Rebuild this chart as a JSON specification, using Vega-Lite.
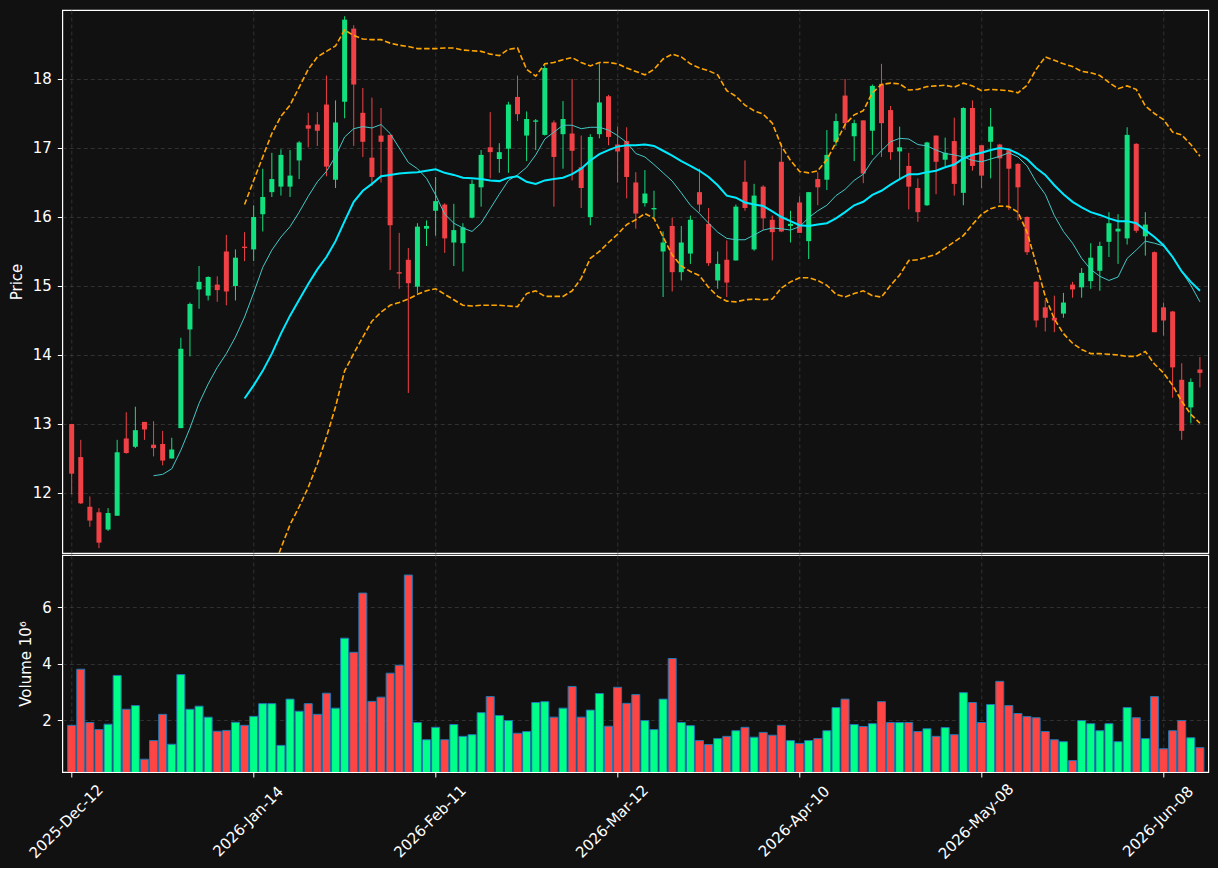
{
 "$schema": "https://vega.github.io/schema/vega-lite/v6.json",
 "background": "#111111",
 "padding": {"left": 8.3, "top": 9, "right": 9, "bottom": 5},
 "spacing": 0,
 "config": {
  "view": {"stroke": "#ffffff", "strokeWidth": 1.2},
  "axis": {"labelFont": "DejaVu Sans", "titleFont": "DejaVu Sans", "labelFontSize": 15, "titleFontSize": 15, "titleFontWeight": "normal", "labelColor": "#ffffff", "titleColor": "#ffffff", "tickColor": "#ffffff", "tickSize": 5, "domain": false, "gridColor": "#3a3a3a", "gridDash": [4, 3], "gridWidth": 0.8}
 },
 "data": {"values": [
  {"i":0,"o":13.00,"h":13.00,"l":11.98,"c":12.28,"v":1.82},
  {"i":1,"o":12.52,"h":12.77,"l":11.84,"c":11.85,"v":3.81},
  {"i":2,"o":11.80,"h":11.95,"l":11.51,"c":11.60,"v":1.92},
  {"i":3,"o":11.72,"h":11.78,"l":11.20,"c":11.28,"v":1.67},
  {"i":4,"o":11.47,"h":11.78,"l":11.45,"c":11.71,"v":1.86},
  {"i":5,"o":11.67,"h":12.77,"l":11.67,"c":12.59,"v":3.59},
  {"i":6,"o":12.79,"h":13.17,"l":12.57,"c":12.58,"v":2.39},
  {"i":7,"o":12.67,"h":13.25,"l":12.65,"c":12.91,"v":2.52},
  {"i":8,"o":13.03,"h":13.03,"l":12.77,"c":12.92,"v":0.62},
  {"i":9,"o":12.70,"h":13.04,"l":12.53,"c":12.65,"v":1.28,"m10":12.25},
  {"i":10,"o":12.71,"h":12.90,"l":12.40,"c":12.47,"v":2.21,"m10":12.27},
  {"i":11,"o":12.50,"h":12.80,"l":12.50,"c":12.63,"v":1.15,"m10":12.35},
  {"i":12,"o":12.94,"h":14.25,"l":12.94,"c":14.09,"v":3.62,"m10":12.62},
  {"i":13,"o":14.37,"h":14.76,"l":13.98,"c":14.74,"v":2.39,"m10":12.94},
  {"i":14,"o":14.95,"h":15.29,"l":14.67,"c":15.06,"v":2.50,"m10":13.30},
  {"i":15,"o":14.86,"h":15.14,"l":14.79,"c":15.13,"v":2.11,"m10":13.58},
  {"i":16,"o":15.02,"h":15.14,"l":14.77,"c":14.94,"v":1.61,"m10":13.82},
  {"i":17,"o":15.50,"h":15.74,"l":14.72,"c":14.92,"v":1.64,"m10":14.02},
  {"i":18,"o":15.00,"h":15.53,"l":14.79,"c":15.41,"v":1.93,"m10":14.26},
  {"i":19,"o":15.57,"h":15.78,"l":15.36,"c":15.55,"v":1.82,"m10":14.55,"m20":13.37,"bu":16.18,"bl":10.56},
  {"i":20,"o":15.53,"h":16.17,"l":15.36,"c":16.00,"v":2.14,"m10":14.90,"m20":13.56,"bu":16.53,"bl":10.59},
  {"i":21,"o":16.04,"h":16.70,"l":15.79,"c":16.29,"v":2.59,"m10":15.27,"m20":13.77,"bu":16.87,"bl":10.67},
  {"i":22,"o":16.36,"h":16.93,"l":16.29,"c":16.55,"v":2.59,"m10":15.52,"m20":14.02,"bu":17.21,"bl":10.85},
  {"i":23,"o":16.44,"h":16.98,"l":16.31,"c":16.90,"v":1.11,"m10":15.71,"m20":14.31,"bu":17.46,"bl":11.20},
  {"i":24,"o":16.44,"h":16.97,"l":16.29,"c":16.60,"v":2.75,"m10":15.86,"m20":14.57,"bu":17.62,"bl":11.54},
  {"i":25,"o":16.82,"h":17.10,"l":16.55,"c":17.08,"v":2.32,"m10":16.07,"m20":14.80,"bu":17.88,"bl":11.80},
  {"i":26,"o":17.33,"h":17.51,"l":17.01,"c":17.28,"v":2.59,"m10":16.30,"m20":15.03,"bu":18.14,"bl":12.08},
  {"i":27,"o":17.34,"h":17.52,"l":17.03,"c":17.25,"v":2.21,"m10":16.51,"m20":15.24,"bu":18.32,"bl":12.42},
  {"i":28,"o":17.63,"h":18.05,"l":16.59,"c":16.73,"v":2.96,"m10":16.66,"m20":15.42,"bu":18.40,"bl":12.81},
  {"i":29,"o":16.54,"h":17.69,"l":16.42,"c":17.37,"v":2.43,"m10":16.88,"m20":15.65,"bu":18.48,"bl":13.25},
  {"i":30,"o":17.67,"h":18.91,"l":17.43,"c":18.86,"v":4.91,"m10":17.16,"m20":15.94,"bu":18.71,"bl":13.77},
  {"i":31,"o":18.73,"h":18.78,"l":17.03,"c":17.92,"v":4.41,"m10":17.28,"m20":16.22,"bu":18.63,"bl":14.02},
  {"i":32,"o":17.51,"h":17.87,"l":16.87,"c":17.09,"v":6.51,"m10":17.31,"m20":16.38,"bu":18.58,"bl":14.26},
  {"i":33,"o":16.86,"h":17.73,"l":16.45,"c":16.58,"v":2.67,"m10":17.29,"m20":16.48,"bu":18.57,"bl":14.49},
  {"i":34,"o":17.18,"h":17.58,"l":16.50,"c":17.09,"v":2.82,"m10":17.34,"m20":16.59,"bu":18.57,"bl":14.62},
  {"i":35,"o":17.19,"h":17.19,"l":15.23,"c":15.88,"v":3.67,"m10":17.21,"m20":16.61,"bu":18.52,"bl":14.72},
  {"i":36,"o":15.20,"h":15.77,"l":14.96,"c":15.18,"v":3.95,"m10":17.00,"m20":16.63,"bu":18.49,"bl":14.76},
  {"i":37,"o":15.38,"h":15.55,"l":13.45,"c":15.04,"v":7.15,"m10":16.79,"m20":16.64,"bu":18.47,"bl":14.81},
  {"i":38,"o":14.99,"h":15.91,"l":14.90,"c":15.86,"v":1.92,"m10":16.70,"m20":16.65,"bu":18.44,"bl":14.88},
  {"i":39,"o":15.83,"h":15.95,"l":15.58,"c":15.87,"v":1.31,"m10":16.56,"m20":16.67,"bu":18.44,"bl":14.93},
  {"i":40,"o":16.09,"h":16.58,"l":15.73,"c":16.23,"v":1.75,"m10":16.32,"m20":16.69,"bu":18.44,"bl":14.96},
  {"i":41,"o":16.18,"h":16.20,"l":15.48,"c":15.69,"v":1.31,"m10":16.04,"m20":16.64,"bu":18.45,"bl":14.88},
  {"i":42,"o":15.63,"h":16.19,"l":15.29,"c":15.81,"v":1.85,"m10":15.91,"m20":16.61,"bu":18.45,"bl":14.80},
  {"i":43,"o":15.62,"h":15.91,"l":15.21,"c":15.85,"v":1.43,"m10":15.84,"m20":16.57,"bu":18.42,"bl":14.72},
  {"i":44,"o":15.99,"h":16.54,"l":15.98,"c":16.48,"v":1.49,"m10":15.79,"m20":16.56,"bu":18.41,"bl":14.71},
  {"i":45,"o":16.43,"h":16.97,"l":16.15,"c":16.90,"v":2.27,"m10":15.91,"m20":16.55,"bu":18.40,"bl":14.72},
  {"i":46,"o":17.01,"h":17.52,"l":16.56,"c":16.94,"v":2.84,"m10":16.12,"m20":16.53,"bu":18.36,"bl":14.72},
  {"i":47,"o":16.84,"h":17.07,"l":16.64,"c":16.94,"v":2.17,"m10":16.33,"m20":16.52,"bu":18.34,"bl":14.72},
  {"i":48,"o":16.99,"h":17.67,"l":16.64,"c":17.63,"v":1.99,"m10":16.53,"m20":16.57,"bu":18.43,"bl":14.71},
  {"i":49,"o":17.74,"h":18.05,"l":17.39,"c":17.49,"v":1.54,"m10":16.61,"m20":16.59,"bu":18.45,"bl":14.70},
  {"i":50,"o":17.18,"h":17.53,"l":16.81,"c":17.42,"v":1.60,"m10":16.72,"m20":16.51,"bu":18.14,"bl":14.89},
  {"i":51,"o":17.38,"h":17.42,"l":16.97,"c":17.40,"v":2.63,"m10":16.90,"m20":16.48,"bu":18.04,"bl":14.93},
  {"i":52,"o":17.19,"h":18.20,"l":17.18,"c":18.16,"v":2.66,"m10":17.13,"m20":16.53,"bu":18.22,"bl":14.85},
  {"i":53,"o":17.37,"h":17.40,"l":16.15,"c":16.87,"v":2.11,"m10":17.23,"m20":16.55,"bu":18.24,"bl":14.85},
  {"i":54,"o":17.20,"h":17.68,"l":16.70,"c":17.42,"v":2.43,"m10":17.33,"m20":16.57,"bu":18.28,"bl":14.85},
  {"i":55,"o":17.21,"h":18.00,"l":16.53,"c":16.96,"v":3.20,"m10":17.33,"m20":16.62,"bu":18.31,"bl":14.93},
  {"i":56,"o":16.72,"h":17.18,"l":16.13,"c":16.42,"v":2.11,"m10":17.28,"m20":16.70,"bu":18.24,"bl":15.11},
  {"i":57,"o":16.00,"h":17.20,"l":15.88,"c":17.16,"v":2.36,"m10":17.30,"m20":16.82,"bu":18.19,"bl":15.40},
  {"i":58,"o":17.20,"h":18.23,"l":17.14,"c":17.66,"v":2.95,"m10":17.30,"m20":16.91,"bu":18.24,"bl":15.50},
  {"i":59,"o":17.75,"h":17.77,"l":17.04,"c":17.16,"v":1.79,"m10":17.26,"m20":16.97,"bu":18.24,"bl":15.63},
  {"i":60,"o":17.05,"h":17.31,"l":16.50,"c":16.95,"v":3.17,"m10":17.18,"m20":17.02,"bu":18.22,"bl":15.75},
  {"i":61,"o":17.10,"h":17.30,"l":16.27,"c":16.58,"v":2.60,"m10":17.08,"m20":17.04,"bu":18.16,"bl":15.89},
  {"i":62,"o":16.50,"h":16.65,"l":15.83,"c":16.05,"v":2.91,"m10":16.92,"m20":17.04,"bu":18.11,"bl":15.96},
  {"i":63,"o":16.20,"h":16.68,"l":16.15,"c":16.34,"v":1.99,"m10":16.87,"m20":17.05,"bu":18.06,"bl":16.05},
  {"i":64,"o":16.11,"h":16.38,"l":15.99,"c":16.13,"v":1.67,"m10":16.76,"m20":17.03,"bu":18.14,"bl":15.98},
  {"i":65,"o":15.50,"h":15.79,"l":14.84,"c":15.63,"v":2.75,"m10":16.64,"m20":16.96,"bu":18.29,"bl":15.71},
  {"i":66,"o":15.87,"h":15.99,"l":14.92,"c":15.20,"v":4.19,"m10":16.52,"m20":16.89,"bu":18.36,"bl":15.45},
  {"i":67,"o":15.20,"h":15.87,"l":15.08,"c":15.63,"v":1.92,"m10":16.35,"m20":16.81,"bu":18.32,"bl":15.29},
  {"i":68,"o":15.47,"h":16.02,"l":15.32,"c":15.96,"v":1.81,"m10":16.17,"m20":16.74,"bu":18.22,"bl":15.21},
  {"i":69,"o":16.36,"h":16.70,"l":16.07,"c":16.18,"v":1.28,"m10":16.05,"m20":16.67,"bu":18.16,"bl":15.15},
  {"i":70,"o":15.90,"h":16.13,"l":15.29,"c":15.33,"v":1.14,"m10":15.91,"m20":16.58,"bu":18.12,"bl":14.98},
  {"i":71,"o":15.08,"h":15.50,"l":14.96,"c":15.32,"v":1.35,"m10":15.78,"m20":16.46,"bu":18.06,"bl":14.85},
  {"i":72,"o":15.38,"h":15.66,"l":14.84,"c":15.05,"v":1.43,"m10":15.69,"m20":16.31,"bu":17.83,"bl":14.78},
  {"i":73,"o":15.37,"h":16.18,"l":15.37,"c":16.15,"v":1.63,"m10":15.67,"m20":16.28,"bu":17.75,"bl":14.77},
  {"i":74,"o":16.51,"h":16.82,"l":16.09,"c":16.13,"v":1.75,"m10":15.67,"m20":16.21,"bu":17.62,"bl":14.80},
  {"i":75,"o":15.53,"h":16.48,"l":15.51,"c":16.31,"v":1.40,"m10":15.74,"m20":16.18,"bu":17.54,"bl":14.81},
  {"i":76,"o":16.44,"h":16.46,"l":15.81,"c":15.98,"v":1.57,"m10":15.81,"m20":16.16,"bu":17.49,"bl":14.80},
  {"i":77,"o":15.96,"h":16.02,"l":15.37,"c":15.78,"v":1.47,"m10":15.84,"m20":16.08,"bu":17.36,"bl":14.81},
  {"i":78,"o":16.80,"h":17.07,"l":15.78,"c":15.79,"v":1.82,"m10":15.83,"m20":16.00,"bu":17.03,"bl":14.97},
  {"i":79,"o":15.87,"h":16.09,"l":15.63,"c":15.90,"v":1.28,"m10":15.81,"m20":15.94,"bu":16.82,"bl":15.06},
  {"i":80,"o":16.21,"h":16.30,"l":15.77,"c":15.77,"v":1.18,"m10":15.86,"m20":15.88,"bu":16.66,"bl":15.12},
  {"i":81,"o":15.65,"h":16.36,"l":15.39,"c":16.36,"v":1.28,"m10":15.99,"m20":15.87,"bu":16.64,"bl":15.12},
  {"i":82,"o":16.55,"h":16.65,"l":16.17,"c":16.43,"v":1.35,"m10":16.09,"m20":15.89,"bu":16.67,"bl":15.08},
  {"i":83,"o":16.54,"h":17.26,"l":16.39,"c":16.90,"v":1.63,"m10":16.17,"m20":15.91,"bu":16.83,"bl":15.01},
  {"i":84,"o":17.09,"h":17.50,"l":17.03,"c":17.39,"v":2.45,"m10":16.31,"m20":15.98,"bu":17.08,"bl":14.88},
  {"i":85,"o":17.76,"h":18.00,"l":17.26,"c":17.36,"v":2.75,"m10":16.40,"m20":16.07,"bu":17.34,"bl":14.84},
  {"i":86,"o":17.17,"h":17.41,"l":16.81,"c":17.36,"v":1.85,"m10":16.53,"m20":16.17,"bu":17.48,"bl":14.89},
  {"i":87,"o":17.40,"h":17.40,"l":16.49,"c":16.63,"v":1.78,"m10":16.62,"m20":16.22,"bu":17.54,"bl":14.93},
  {"i":88,"o":17.25,"h":17.92,"l":16.90,"c":17.90,"v":1.88,"m10":16.82,"m20":16.32,"bu":17.80,"bl":14.86},
  {"i":89,"o":17.93,"h":18.22,"l":16.87,"c":17.36,"v":2.66,"m10":16.96,"m20":16.38,"bu":17.92,"bl":14.84},
  {"i":90,"o":17.55,"h":17.61,"l":16.83,"c":16.94,"v":1.92,"m10":17.09,"m20":16.47,"bu":17.94,"bl":15.01},
  {"i":91,"o":16.95,"h":17.31,"l":16.56,"c":17.01,"v":1.92,"m10":17.14,"m20":16.55,"bu":17.93,"bl":15.16},
  {"i":92,"o":16.74,"h":16.93,"l":16.11,"c":16.44,"v":1.92,"m10":17.13,"m20":16.62,"bu":17.84,"bl":15.37},
  {"i":93,"o":16.42,"h":16.56,"l":15.93,"c":16.07,"v":1.60,"m10":17.05,"m20":16.62,"bu":17.85,"bl":15.38},
  {"i":94,"o":16.17,"h":17.09,"l":16.16,"c":17.08,"v":1.70,"m10":17.03,"m20":16.65,"bu":17.89,"bl":15.42},
  {"i":95,"o":17.18,"h":17.18,"l":16.33,"c":16.80,"v":1.43,"m10":16.97,"m20":16.67,"bu":17.90,"bl":15.46},
  {"i":96,"o":16.83,"h":17.15,"l":16.74,"c":16.93,"v":1.74,"m10":16.92,"m20":16.72,"bu":17.91,"bl":15.55},
  {"i":97,"o":17.10,"h":17.44,"l":16.31,"c":16.48,"v":1.49,"m10":16.90,"m20":16.76,"bu":17.88,"bl":15.64},
  {"i":98,"o":16.35,"h":17.59,"l":16.17,"c":17.58,"v":2.98,"m10":16.87,"m20":16.85,"bu":17.94,"bl":15.73},
  {"i":99,"o":17.58,"h":17.69,"l":16.67,"c":16.74,"v":2.63,"m10":16.82,"m20":16.90,"bu":17.90,"bl":15.89},
  {"i":100,"o":17.04,"h":17.04,"l":16.42,"c":16.60,"v":1.92,"m10":16.80,"m20":16.93,"bu":17.83,"bl":16.04},
  {"i":101,"o":17.09,"h":17.58,"l":16.56,"c":17.31,"v":2.56,"m10":16.84,"m20":16.97,"bu":17.85,"bl":16.12},
  {"i":102,"o":17.05,"h":17.06,"l":16.20,"c":16.85,"v":3.38,"m10":16.88,"m20":17.00,"bu":17.84,"bl":16.16},
  {"i":103,"o":16.97,"h":16.98,"l":16.10,"c":16.70,"v":2.52,"m10":16.93,"m20":16.98,"bu":17.83,"bl":16.15},
  {"i":104,"o":16.77,"h":16.78,"l":15.95,"c":16.43,"v":2.24,"m10":16.87,"m20":16.92,"bu":17.80,"bl":16.07},
  {"i":105,"o":16.00,"h":16.01,"l":15.45,"c":15.49,"v":2.13,"m10":16.74,"m20":16.84,"bu":17.91,"bl":15.78},
  {"i":106,"o":15.06,"h":15.07,"l":14.40,"c":14.50,"v":2.09,"m10":16.51,"m20":16.71,"bu":18.14,"bl":15.32},
  {"i":107,"o":14.69,"h":14.80,"l":14.34,"c":14.54,"v":1.60,"m10":16.33,"m20":16.61,"bu":18.32,"bl":14.85},
  {"i":108,"o":14.54,"h":14.86,"l":14.33,"c":14.50,"v":1.31,"m10":16.02,"m20":16.46,"bu":18.27,"bl":14.52},
  {"i":109,"o":14.60,"h":14.90,"l":14.54,"c":14.76,"v":1.24,"m10":15.79,"m20":16.33,"bu":18.22,"bl":14.31},
  {"i":110,"o":15.02,"h":15.06,"l":14.83,"c":14.95,"v":0.57,"m10":15.62,"m20":16.22,"bu":18.18,"bl":14.17},
  {"i":111,"o":14.98,"h":15.26,"l":14.83,"c":15.19,"v":1.99,"m10":15.40,"m20":16.14,"bu":18.11,"bl":14.08},
  {"i":112,"o":15.07,"h":15.62,"l":14.96,"c":15.41,"v":1.88,"m10":15.24,"m20":16.07,"bu":18.09,"bl":14.02},
  {"i":113,"o":15.22,"h":15.64,"l":14.93,"c":15.58,"v":1.63,"m10":15.14,"m20":16.03,"bu":18.05,"bl":14.02},
  {"i":114,"o":15.64,"h":16.07,"l":15.42,"c":15.91,"v":1.88,"m10":15.08,"m20":15.98,"bu":17.95,"bl":14.01},
  {"i":115,"o":15.79,"h":16.04,"l":15.32,"c":15.83,"v":1.24,"m10":15.13,"m20":15.94,"bu":17.86,"bl":14.00},
  {"i":116,"o":15.69,"h":17.30,"l":15.60,"c":17.19,"v":2.45,"m10":15.40,"m20":15.94,"bu":17.90,"bl":13.98},
  {"i":117,"o":17.06,"h":17.07,"l":15.77,"c":15.80,"v":2.09,"m10":15.52,"m20":15.91,"bu":17.85,"bl":13.98},
  {"i":118,"o":15.72,"h":16.07,"l":15.44,"c":15.89,"v":1.35,"m10":15.65,"m20":15.81,"bu":17.61,"bl":14.05},
  {"i":119,"o":15.49,"h":15.50,"l":14.33,"c":14.33,"v":2.84,"m10":15.62,"m20":15.71,"bu":17.50,"bl":13.87},
  {"i":120,"o":14.69,"h":14.76,"l":14.28,"c":14.50,"v":0.99,"m10":15.58,"m20":15.59,"bu":17.41,"bl":13.74},
  {"i":121,"o":14.63,"h":14.64,"l":13.38,"c":13.82,"v":1.63,"m10":15.42,"m20":15.42,"bu":17.23,"bl":13.56},
  {"i":122,"o":13.64,"h":13.88,"l":12.77,"c":12.90,"v":1.99,"m10":15.21,"m20":15.21,"bu":17.19,"bl":13.33},
  {"i":123,"o":13.24,"h":13.66,"l":13.01,"c":13.61,"v":1.38,"m10":15.01,"m20":15.06,"bu":17.05,"bl":13.14},
  {"i":124,"o":13.79,"h":13.97,"l":13.53,"c":13.74,"v":1.03,"m10":14.77,"m20":14.93,"bu":16.88,"bl":13.01}
 ]},
 "vconcat": [
  {
   "width": 1146,
   "height": 543,
   "encoding": {
    "x": {"field": "i", "type": "quantitative", "scale": {"domain": [-0.48, 124.37], "nice": false, "zero": false},
          "axis": {"values": [0, 20, 40, 60, 80, 100, 120], "labels": false, "ticks": false, "title": null, "grid": true}}
   },
   "layer": [
    {
     "mark": {"type": "rule", "strokeWidth": 1},
     "encoding": {
      "y": {"field": "l", "type": "quantitative", "title": "Price",
            "scale": {"domain": [11.13, 19.0], "nice": false, "zero": false},
            "axis": {"values": [12, 13, 14, 15, 16, 17, 18], "format": "d", "grid": true, "labelPadding": 6, "titlePadding": 8}},
      "y2": {"field": "h"},
      "color": {"condition": {"test": "datum.c >= datum.o", "value": "#12e07e"}, "value": "#f04246"}
     }
    },
    {
     "mark": {"type": "bar", "size": 5},
     "encoding": {
      "y": {"field": "o", "type": "quantitative", "title": "Price"},
      "y2": {"field": "c"},
      "color": {"condition": {"test": "datum.c >= datum.o", "value": "#12e07e"}, "value": "#f04246"}
     }
    },
    {
     "transform": [{"filter": "isValid(datum.m10)"}],
     "mark": {"type": "line", "color": "#45c8c8", "strokeWidth": 1, "clip": true},
     "encoding": {"y": {"field": "m10", "type": "quantitative", "title": "Price"}}
    },
    {
     "transform": [{"filter": "isValid(datum.m20)"}],
     "mark": {"type": "line", "color": "#00eaff", "strokeWidth": 2, "clip": true},
     "encoding": {"y": {"field": "m20", "type": "quantitative", "title": "Price"}}
    },
    {
     "transform": [{"filter": "isValid(datum.bu)"}],
     "mark": {"type": "line", "color": "#ffa500", "strokeWidth": 1.6, "strokeDash": [5.5, 2.5], "clip": true},
     "encoding": {"y": {"field": "bu", "type": "quantitative", "title": "Price"}}
    },
    {
     "transform": [{"filter": "isValid(datum.bl)"}],
     "mark": {"type": "line", "color": "#ffa500", "strokeWidth": 1.6, "strokeDash": [5.5, 2.5], "clip": true},
     "encoding": {"y": {"field": "bl", "type": "quantitative", "title": "Price"}}
    }
   ]
  },
  {
   "width": 1146,
   "height": 217,
   "mark": {"type": "bar", "size": 8, "stroke": "#1f77b4", "strokeWidth": 1, "clip": true},
   "encoding": {
    "x": {"field": "i", "type": "quantitative", "scale": {"domain": [-0.48, 124.37], "nice": false, "zero": false},
          "axis": {"values": [0, 20, 40, 60, 80, 100, 120], "title": null, "grid": true,
                   "labelExpr": "['2025-Dec-12','2026-Jan-14','2026-Feb-11','2026-Mar-12','2026-Apr-10','2026-May-08','2026-Jun-08'][round(datum.value/20)]",
                   "labelAngle": -45, "labelAlign": "center", "labelBaseline": "middle", "labelPadding": 44, "labelOffset": -6,
                   "labelOverlap": false, "labelFlush": false, "labelBound": false}},
    "y": {"field": "v", "type": "quantitative", "title": "Volume  10⁶",
          "scale": {"domain": [0.166, 7.86], "nice": false, "zero": false},
          "axis": {"values": [2, 4, 6], "grid": true, "labelPadding": 6, "titlePadding": 8}},
    "color": {"condition": {"test": "datum.c >= datum.o", "value": "#00ff88"}, "value": "#ff4444"}
   }
  }
 ]
}
